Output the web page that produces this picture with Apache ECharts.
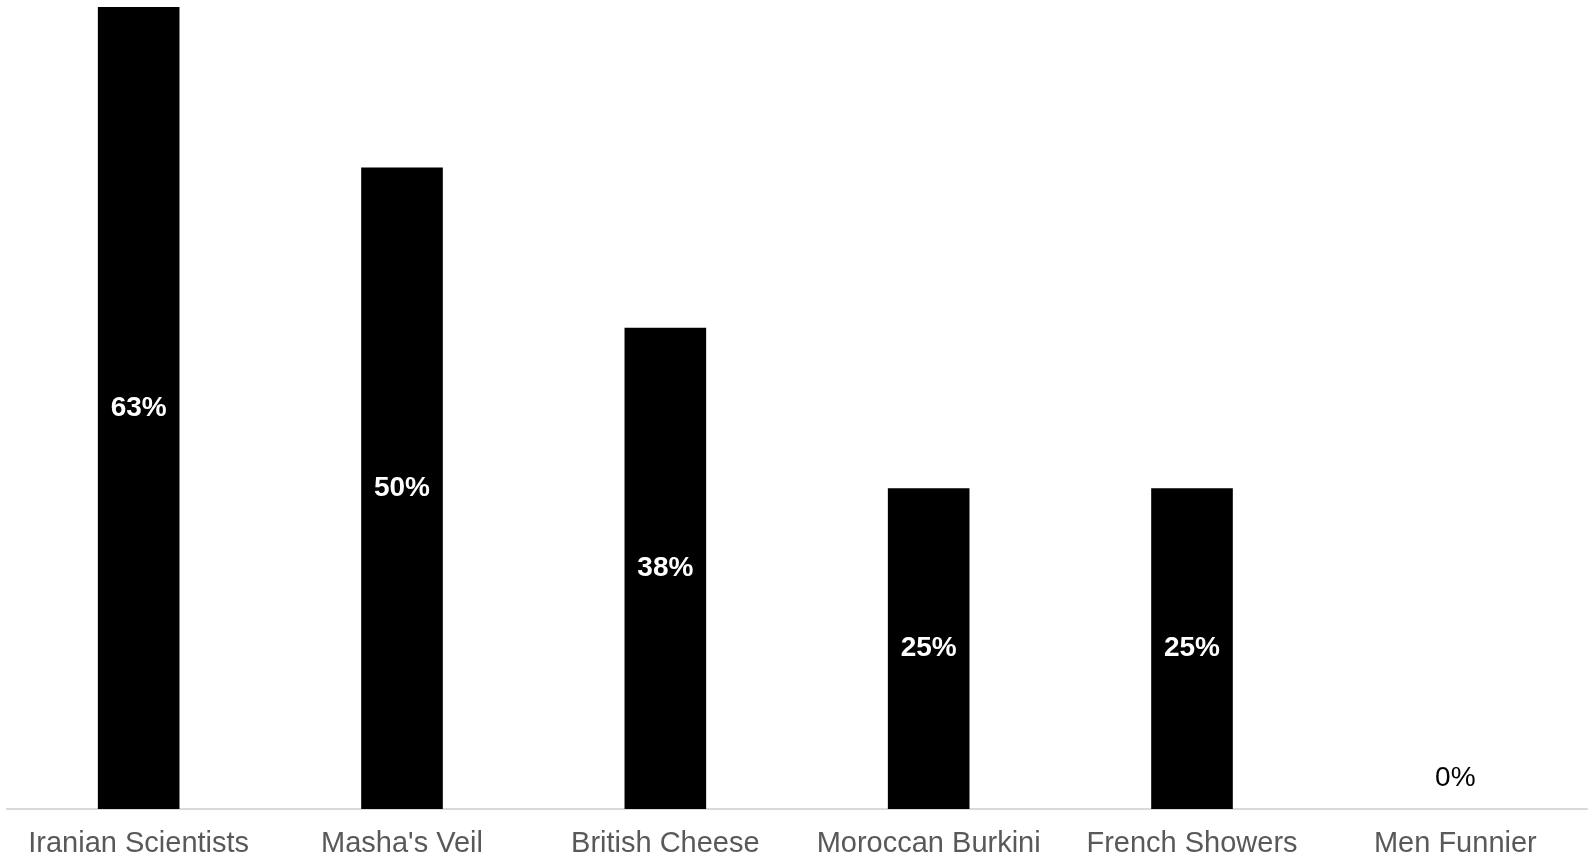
<!DOCTYPE html>
<html>
<head>
<meta charset="utf-8">
<style>
    html, body { margin: 0; padding: 0; background: #fff; }
    #main { width: 1595px; height: 861px; }
</style>
<script src="https://cdn.jsdelivr.net/npm/echarts@6/dist/echarts.min.js"></script>
</head>
<body>
<div id="main"></div>
<script>
    // categories and values (share of votes, %)
    var categories = ['Iranian Scientists', "Masha's Veil", 'British Cheese', 'Moroccan Burkini', 'French Showers', 'Men Funnier'];
    var values = [62.5, 50, 37.5, 25, 25, 0];

    var chart = echarts.init(document.getElementById('main'));

    var seriesData = values.map(function (v) {
        var item = {value: v};
        // zero bar: label sits above the axis in black
        if (v === 0) {
            item.label = {
                position: 'top',
                distance: 17,
                color: '#000',
                fontWeight: 'normal'
            };
        }
        return item;
    });

    var opt = {
        animation: false,
        grid: {
            left: 7,
            right: 8,
            top: 7,
            bottom: 52,
            containLabel: false
        },
        xAxis: {
            type: 'category',
            data: categories,
            axisLine: {lineStyle: {color: '#d9d9d9', width: 2}},
            axisTick: {show: false},
            axisLabel: {
                color: '#595959',
                fontFamily: 'Liberation Sans, Arial, sans-serif',
                fontSize: 29,
                margin: 20,
                interval: 0
            }
        },
        yAxis: {
            type: 'value',
            min: 0,
            max: 62.5,
            show: false,
            splitLine: {show: false}
        },
        series: [{
            type: 'bar',
            data: seriesData,
            barWidth: '31%',
            itemStyle: {color: '#000'},
            label: {
                show: true,
                position: 'inside',
                color: '#fff',
                fontWeight: 'bold',
                fontFamily: 'Liberation Sans, Arial, sans-serif',
                fontSize: 28,
                formatter: function (p) {
                    return Math.round(p.value) + '%';
                }
            }
        }]
    };

    chart.setOption(opt);
</script>
</body>
</html>
